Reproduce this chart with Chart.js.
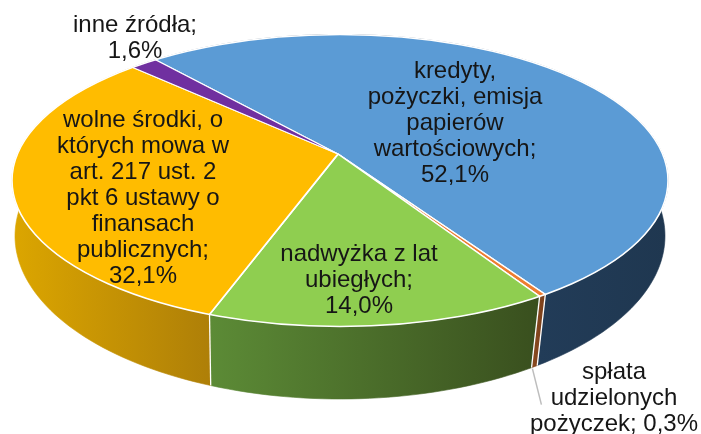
<!DOCTYPE html>
<html><head><meta charset="utf-8">
<style>html,body{margin:0;padding:0;background:#fff}canvas{display:block;filter:blur(0.45px)}</style>
<script src="https://cdn.jsdelivr.net/npm/chart.js@4"></script></head>
<body><canvas id="c" width="701" height="434"></canvas>
<script>
const categories = ["kredyty, pożyczki, emisja papierów wartościowych","spłata udzielonych pożyczek","nadwyżka z lat ubiegłych","wolne środki, o których mowa w art. 217 ust. 2 pkt 6 ustawy o finansach publicznych","inne źródła"];
const values = [52.1,0.3,14.0,32.1,1.6];
const topColors = ["#5B9BD5","#ED7D31","#8FCE50","#FFBC00","#7030A0"];
const wallFrom = ["#223C58","#8A4A20","#5C8B36","#DCA600","#3E1A5A"];
const wallTo = ["#1F3750","#7A3F1A","#394F1E","#AE7F08","#3E1A5A"];
const labelLines = [
 ["kredyty,","pożyczki, emisja","papierów","wartościowych;","52,1%"],
 ["spłata","udzielonych","pożyczek; 0,3%"],
 ["nadwyżka z lat","ubiegłych;","14,0%"],
 ["wolne środki, o","których mowa w","art. 217 ust. 2","pkt 6 ustawy o","finansach","publicznych;","32,1%"],
 ["inne źródła;","1,6%"]
];
const labelPos = [[455,71],[614,372],[359,254],[143,120],[135,25]];
const lineStep = 26;
const topE = {x:340,y:180.5,rx:328,ry:146};
const botE = {x:340,y:236,rx:325,ry:163};
const apex = {x:338,y:154};
const K = 2, S = 0.43;

function rimPoint(a){
  const dx=Math.cos(a)*K, dy=Math.sin(a)*K*S;
  const ox=(apex.x-topE.x)/topE.rx, oy=(apex.y-topE.y)/topE.ry;
  const ux=dx/topE.rx, uy=dy/topE.ry;
  const A=ux*ux+uy*uy, B=2*(ox*ux+oy*uy), C=ox*ox+oy*oy-1;
  const t=(-B+Math.sqrt(B*B-4*A*C))/(2*A);
  return {x:apex.x+dx*t,y:apex.y+dy*t};
}
function lowPoint(p){
  let t=Math.atan2((p.y-topE.y)/topE.ry,(p.x-topE.x)/topE.rx);
  t+=0.025*Math.max(0,Math.sin(2*t));
  return {x:botE.x+Math.cos(t)*botE.rx,y:botE.y+Math.sin(t)*botE.ry};
}
const pie3d = {
  id:'pie3d',
  beforeDatasetsDraw(chart){
    const ctx=chart.ctx, meta=chart.getDatasetMeta(0);
    meta.data.forEach((el,i)=>{
      const top=[],low=[];
      const n=Math.max(2,Math.ceil((el.endAngle-el.startAngle)*40));
      for(let j=0;j<=n;j++){
        const p=rimPoint(el.startAngle+(el.endAngle-el.startAngle)*j/n);
        top.push(p);low.push(lowPoint(p));
      }
      const xs=top.concat(low).map(p=>p.x);
      const fx=top.filter(p=>p.y>topE.y-5).concat(low.filter(p=>p.y>botE.y-5)).map(p=>p.x);
      const g=ctx.createLinearGradient(Math.min(...(fx.length?fx:xs)),0,Math.max(...(fx.length?fx:xs)),0);
      g.addColorStop(0,wallFrom[i]);g.addColorStop(1,wallTo[i]);
      ctx.beginPath();
      top.forEach((p,j)=>j?ctx.lineTo(p.x,p.y):ctx.moveTo(p.x,p.y));
      low.reverse().forEach(p=>ctx.lineTo(p.x,p.y));
      ctx.closePath();
      ctx.fillStyle=g;ctx.fill();
      ctx.strokeStyle=g;ctx.lineWidth=0.6;ctx.stroke();
    });
    ctx.strokeStyle='#fff';ctx.lineWidth=1.3;
    meta.data.forEach(el=>{
      const p=rimPoint(el.endAngle);
      if(p.y>topE.y+40){const q=lowPoint(p);ctx.beginPath();ctx.moveTo(p.x,p.y);ctx.lineTo(q.x,q.y);ctx.stroke();}
    });
    ctx.save();
    ctx.beginPath();
    ctx.ellipse(topE.x,topE.y,topE.rx,topE.ry,0,0,Math.PI*2);
    ctx.clip();
    ctx.translate(apex.x,apex.y);
    ctx.scale(K,K*S);
    ctx.translate(-meta.data[0].x,-meta.data[0].y);
  },
  afterDatasetsDraw(chart){
    const ctx=chart.ctx, meta=chart.getDatasetMeta(0);
    ctx.restore();
    ctx.beginPath();
    ctx.ellipse(topE.x,topE.y,topE.rx,topE.ry,0,0,Math.PI*2);
    ctx.strokeStyle='#fff';ctx.lineWidth=1.6;ctx.stroke();
    const q=lowPoint(rimPoint((meta.data[1].startAngle+meta.data[1].endAngle)/2));
    ctx.beginPath();ctx.moveTo(q.x-2,q.y+2);ctx.lineTo(q.x+7,q.y+38);
    ctx.strokeStyle='#BDBDBD';ctx.lineWidth=1.5;ctx.stroke();
    ctx.fillStyle='#161616';ctx.font='24px "Liberation Sans", Arial, sans-serif';
    ctx.textAlign='center';ctx.textBaseline='middle';
    labelLines.forEach((lines,i)=>lines.forEach((t,j)=>ctx.fillText(t,labelPos[i][0],labelPos[i][1]+j*lineStep)));
  }
};
new Chart(document.getElementById('c'),{
  type:'pie',
  data:{labels:categories,datasets:[{data:values,backgroundColor:topColors,borderColor:'#fff',borderWidth:1,clip:false}]},
  options:{responsive:false,animation:false,rotation:-39.8,layout:{padding:0},
    plugins:{legend:{display:false},tooltip:{enabled:false},title:{display:false}}},
  plugins:[pie3d]
});
</script></body></html>
